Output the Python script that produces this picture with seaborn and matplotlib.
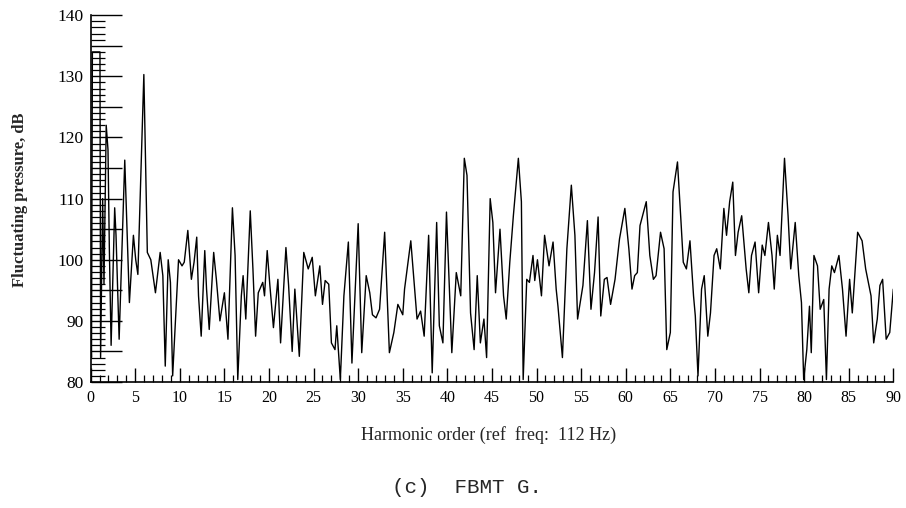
import matplotlib
matplotlib.use("Agg")
import matplotlib.pyplot as plt
import seaborn as sns
import pandas as pd
from matplotlib.ticker import MultipleLocator

# harmonic order (x) and fluctuating pressure in dB (y)
harmonic = [
    0, 0.1, 0.2, 1.05, 1.12, 1.35, 1.5, 1.75, 1.95, 2.1, 2.3,
    2.7, 2.85, 3.2, 3.83, 4.35, 4.8, 5.06, 5.3, 5.97, 6.36,
    6.75, 7.27, 7.8, 8.1, 8.37, 8.7, 8.95, 9.2, 9.5, 9.86,
    10.25, 10.5, 10.9, 11.3, 11.6, 11.9, 12.1, 12.4, 12.8, 13.0,
    13.3, 13.8, 14.1, 14.5, 15.0, 15.4, 15.9, 16.2, 16.5, 16.9,
    17.1, 17.4, 17.9, 18.2, 18.5, 18.8, 19.3, 19.5, 19.8, 20.1,
    20.5, 21.0, 21.3, 21.9, 22.2, 22.6, 22.9, 23.4, 23.9, 24.4,
    24.85, 25.2, 25.7, 26.0, 26.3, 26.7, 27.0, 27.4, 27.6, 28.0,
    28.4, 28.9, 29.3, 30.0, 30.4, 30.9, 31.3, 31.6, 32.0, 32.4,
    32.97, 33.5, 34.0, 34.45, 35.0, 35.2, 35.9, 36.6, 37.0, 37.4,
    37.9, 38.3, 38.8, 39.1, 39.5, 39.9, 40.5, 41.0, 41.5, 41.9,
    42.2, 42.6, 43.0, 43.35, 43.7, 44.1, 44.4, 44.8, 45.1, 45.4,
    45.9, 46.3, 46.6, 47.0, 47.4, 47.96, 48.3, 48.5, 48.9, 49.2,
    49.6, 49.8, 50.1, 50.55, 50.9, 51.4, 51.85, 52.2, 52.4, 52.9,
    53.4, 53.9, 54.3, 54.6, 55.2, 55.7, 56.1, 56.5, 56.9, 57.2,
    57.6, 57.9, 58.3, 58.8, 59.3, 59.9, 60.35, 60.7, 61.0, 61.3,
    61.6, 62.3, 62.7, 63.1, 63.4, 63.9, 64.3, 64.6, 65.0, 65.3,
    65.8, 66.2, 66.45, 66.8, 67.2, 67.6, 67.8, 68.1, 68.5, 68.8,
    69.2, 69.5, 69.9, 70.2, 70.6, 71.0, 71.3, 71.65, 72.0, 72.3,
    72.6, 73.0, 73.5, 73.8, 74.1, 74.5, 74.9, 75.3, 75.6, 76.0,
    76.4, 76.65, 77.0, 77.3, 77.8, 78.2, 78.5, 79.0, 79.4, 79.7,
    79.95, 80.3, 80.6, 80.8, 81.1, 81.5, 81.8, 82.2, 82.5, 82.8,
    83.1, 83.4, 83.9, 84.3, 84.7, 85.1, 85.4, 85.7, 86.0, 86.5,
    86.9, 87.2, 87.5, 87.8, 88.2, 88.5, 88.8, 89.2, 89.6, 90.0,
]
level_db = [
    89, 84, 134, 134, 84, 110, 96, 122, 118, 102, 86,
    108.5, 104, 87, 116.3, 93, 104, 100, 97.6, 130.3, 101.2,
    100, 94.6, 101.2, 97.4, 82.6, 100, 96.3, 81, 89.7, 100,
    99, 99.6, 104.8, 96.8, 99.6, 103.7, 94.1, 87.5, 101.5, 95.2,
    88.6, 101.2, 96.8, 90, 94.6, 87, 108.5, 100.7, 80.4, 94.1,
    97.4, 90.3, 108, 98.5, 87.5, 94.6, 96.3, 94.1, 101.5, 95.8,
    88.9, 96.8, 86.4, 102, 95.8, 85, 95.2, 84.2, 101.2, 98.5,
    100.4, 94.1, 99, 92.7, 96.6, 96, 86.4, 85.3, 89.2, 80.4,
    94.1, 102.9, 83.1, 105.9, 84.8, 97.4, 94.6, 91, 90.5, 91.9,
    104.5, 84.8, 88.1, 92.7, 91, 95.2, 103.1, 90.3, 91.6, 87.5,
    104, 81.5, 106.1, 89.2, 86.4, 107.8, 84.8, 97.9, 94.1, 116.6,
    113.8, 91.3, 85.3, 97.4, 86.4, 90.3, 84, 110, 106.1, 94.6,
    105, 94.1, 90.3, 99.6, 107.2, 116.6, 109.5, 80.4, 96.8, 96.3,
    100.7, 96.6, 100, 94.1, 104, 99, 102.9, 95.2, 92.4, 84,
    101.8, 112.2, 104, 90.3, 95.8, 106.4, 91.9, 97.9, 107, 90.8,
    96.8, 97.1, 92.7, 96.8, 103.4, 108.4, 101.8, 95.2, 97.4, 97.9,
    105.6, 109.5, 100.7, 96.8, 97.4, 104.5, 101.8, 85.3, 88.1, 111.1,
    116, 106.1, 99.6, 98.5, 103.1, 94.1, 90.8, 81, 95.2, 97.4,
    87.5, 91.3, 100.7, 101.8, 98.5, 108.4, 104, 109.5, 112.7, 100.7,
    104.5, 107.2, 98.5, 94.6, 100.7, 102.9, 94.6, 102.4, 100.7, 106.1,
    100.7, 95.2, 104, 100.7, 116.6, 107.2, 98.5, 106.1, 97.4, 93,
    80.4, 85.3, 92.4, 84.8, 100.7, 99, 91.9, 93.5, 80.4, 95.2,
    99, 97.9, 100.7, 95.2, 87.5, 96.8, 91.3, 97.9, 104.5, 103.1,
    98.5, 96.3, 94.1, 86.4, 90.3, 95.8, 96.8, 87, 88.1, 95.2,
]

x_ticks = list(range(0, 91, 5))
y_ticks = list(range(80, 141, 5))
y_ticklabels = [str(v) if v % 10 == 0 else "" for v in y_ticks]

sns.set_theme(style="ticks")
plt.rcParams["font.family"] = ["Liberation Serif", "DejaVu Serif"]

df = pd.DataFrame({"harmonic": harmonic, "level": level_db})

fig = plt.figure(figsize=(9.06, 5.08), dpi=100)
ax = fig.add_axes([0.100, 0.248, 0.886, 0.722])

sns.lineplot(data=df, x="harmonic", y="level", ax=ax, color="black",
             linewidth=1.0, sort=False, estimator=None)

ax.set_xlim(0, 90)
ax.set_ylim(80, 140)
ax.set_xticks(x_ticks)
ax.set_xticklabels([str(v) for v in x_ticks])
ax.set_yticks(y_ticks)
ax.set_yticklabels(y_ticklabels)
ax.xaxis.set_minor_locator(MultipleLocator(1))
ax.yaxis.set_minor_locator(MultipleLocator(1))

ax.tick_params(axis="x", which="major", direction="in", length=10, width=1,
               labelsize=11.5, pad=6, color="black", labelcolor="black")
ax.tick_params(axis="x", which="minor", direction="in", length=5, width=0.9,
               color="black")
ax.tick_params(axis="y", which="major", direction="in", length=22, width=1,
               labelsize=12.5, pad=5, color="black", labelcolor="black")
ax.tick_params(axis="y", which="minor", direction="in", length=10, width=0.9,
               color="black")

sns.despine(ax=ax)
for side in ("left", "bottom"):
    ax.spines[side].set_color("black")
    ax.spines[side].set_linewidth(1.2)

ax.set_xlabel("")
ax.set_ylabel("")

fig.text(0.022, 0.606, "Fluctuating pressure, dB", rotation=90,
         ha="center", va="center", fontsize=12, fontweight="bold")
fig.text(0.539, 0.144, "Harmonic order (ref  freq:  112 Hz)",
         ha="center", va="center", fontsize=13)
fig.text(0.515, 0.041, "(c)  FBMT G.", ha="center", va="center",
         fontsize=15, family=["Liberation Mono", "DejaVu Sans Mono"])

fig.savefig("out.png", dpi=100)
